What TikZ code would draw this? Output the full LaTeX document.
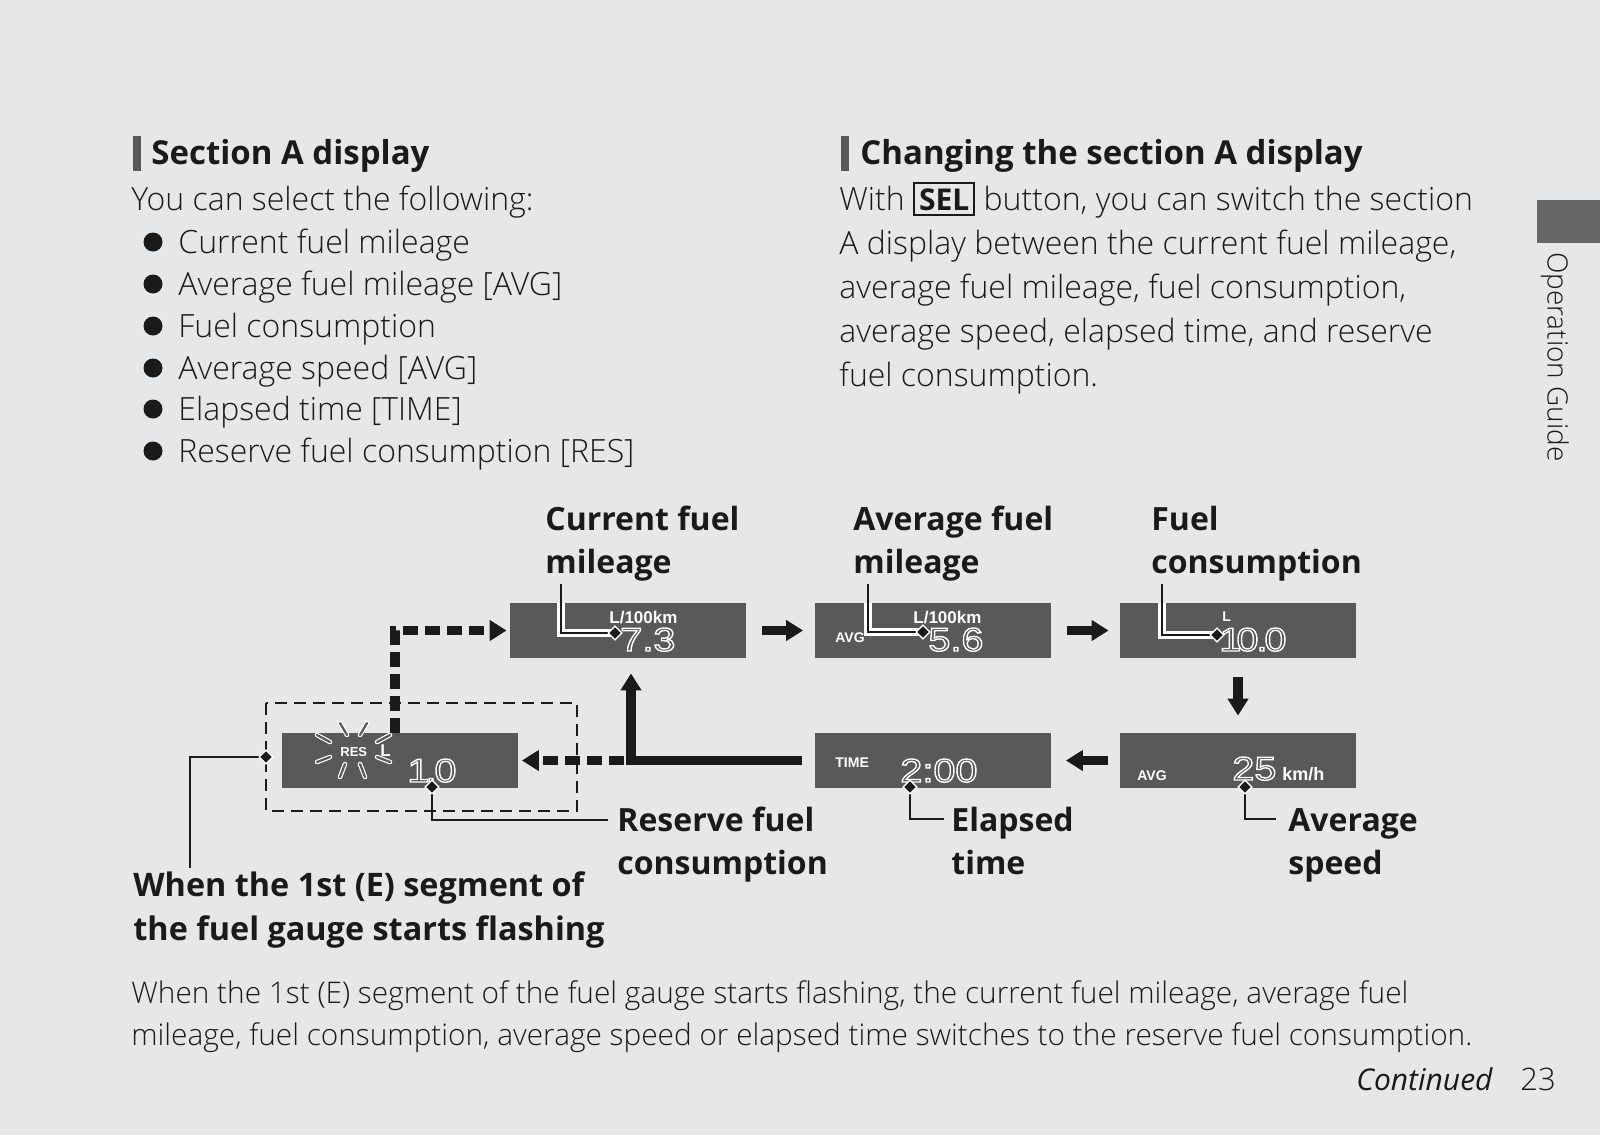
\documentclass[tikz,border=0pt]{standalone}
\usepackage{fontspec}
\setmainfont{Open Sans}
\IfFontExistsTF{Open Sans Light}{\newfontfamily\lightf{Open Sans Light}}{\newfontfamily\lightf{Open Sans}}
\newfontfamily\lcdfont{Liberation Sans}
\newfontfamily\lcdwide{Liberation Sans}[FakeStretch=1.2]
\usetikzlibrary{arrows.meta,shapes.geometric}
\definecolor{bg}{HTML}{E6E7E8}
\definecolor{disp}{HTML}{58595B}
\definecolor{ink}{HTML}{1A1A1A}
\definecolor{tabc}{HTML}{666666}
\newcommand\lcdtext[1]{\special{pdf:literal direct 1 Tr 0.7 w}#1\special{pdf:literal direct 0 Tr}}
\newcommand\selkey{{\setlength\fboxsep{2pt}\setlength\fboxrule{1pt}\fbox{\normalfont\bfseries\fontsize{15}{18}\selectfont SEL}}}
\begin{document}
\begin{tikzpicture}[x=0.5pt,y=-0.5pt,
  txt/.style={anchor=base west,inner sep=0pt,text=ink},
  body/.style={txt,font=\lightf\fontsize{16}{18}\selectfont},
  bottom/.style={txt,font=\lightf\fontsize{14.9}{18}\selectfont},
  head/.style={txt,font=\bfseries\fontsize{16.5}{20}\selectfont},
  lbl/.style={txt,font=\bfseries\fontsize{16}{20}\selectfont},
  disp/.style={fill=disp,draw=none,inner sep=0pt,minimum width=118pt,minimum height=27.5pt},
  lcd/.style={anchor=base west,inner sep=0pt,text=white,font=\lcdwide\fontsize{16.5}{16.5}\selectfont},
  tag/.style={anchor=base west,inner sep=0pt,text=white,font=\lcdfont\bfseries\fontsize{7}{7}\selectfont},
  bigarrow/.style={draw=ink,line width=4.75pt,-{Triangle[length=8.5pt,width=10pt]}},
  bigdash/.style={bigarrow,dash pattern=on 7.5pt off 3.5pt},
  thindash/.style={draw=ink,line width=1.2pt,dash pattern=on 6pt off 3.5pt},
  leader/.style={draw=ink,line width=1.3pt},
  halo/.style={draw=white,line width=3.6pt},
  dmd/.style={diamond,fill=ink,draw=white,line width=0.6pt,inner sep=0pt,minimum size=7pt},
  flash/.style={draw=white,double=disp,double distance=1.1pt,line width=0.6pt,line cap=round},
  bar/.style={fill=disp,draw=none},
]
\fill[bg] (0,0) rectangle (1600,1135);
\useasboundingbox (0,0) rectangle (1600,1135);

% ---------- headings ----------
\fill[bar] (133,136) rectangle (141,171);
\node[head] (hA) at (151,164) {Section A display};
\fill[bar] (841,136) rectangle (849,171);
\node[head] (hB) at (860,164) {Changing the section A display};

% ---------- left column ----------
\node[body] (l0) at (131,210) {You can select the following:};
\foreach \yy/\tt [count=\i] in {253/Current fuel mileage,295/Average fuel mileage [AVG],337/Fuel consumption,379/Average speed [AVG],420/Elapsed time [TIME],462/Reserve fuel consumption [RES]}{
  \fill[ink] (153,\yy-11) circle[radius=4.75pt];
  \node[body] (l\i) at (178,\yy) {\tt};
}

% ---------- right column ----------
\node[body] (r1) at (839,210) {With \selkey{} button, you can switch the section};
\node[body] (r2) at (839,254) {A display between the current fuel mileage,};
\node[body] (r3) at (839,298) {average fuel mileage, fuel consumption,};
\node[body] (r4) at (839,342) {average speed, elapsed time, and reserve};
\node[body] (r5) at (839,386) {fuel consumption.};

% ---------- side tab ----------
\fill[tabc] (1537,200) rectangle (1600,243);
\node[rotate=-90,inner sep=0pt,text=ink,font=\lightf\fontsize{14}{16}\selectfont] (side) at (1555,357) {Operation Guide};

% ---------- displays ----------
\node[disp] (D1) at (628,630.5) {};
\node[disp] (D2) at (932.5,630.5) {};
\node[disp] (D3) at (1238,630.5) {};
\node[disp] (D4) at (399.5,760.5) {};
\node[disp] (D5) at (932.5,760.5) {};
\node[disp] (D6) at (1238,760.5) {};

% reserve box
\draw[thindash] (266,703) rectangle (577,811);

% ---------- display contents ----------
\node[tag,font=\lcdfont\bfseries\fontsize{8.5}{8.5}\selectfont] (u1) at (609,623) {L/100km};
\node[tag] (a2) at (835,642) {AVG};
\node[tag,font=\lcdfont\bfseries\fontsize{8.5}{8.5}\selectfont] (u2) at (913,623) {L/100km};
\node[tag] (u3) at (1222,621) {L};
\node[tag,font=\lcdfont\bfseries\fontsize{6.5}{6.5}\selectfont] (res) at (340,756) {RES};
\node[tag,font=\lcdfont\bfseries\fontsize{8.5}{8.5}\selectfont] (u4) at (380,756) {L};
\node[tag] (t5) at (835,767) {TIME};
\node[tag] (a6) at (1137,780) {AVG};
\node[tag,font=\lcdfont\bfseries\fontsize{9}{9}\selectfont] (u6) at (1282,780) {km/h};

\node[lcd] (v1) at (620,651) {\lcdtext{7.3}};
\node[lcd] (v2) at (928,651) {\lcdtext{5.6}};
\node[lcd] (v3) at (1219,651) {\lcdtext{1\kern-2.5pt 0\kern-1pt.\kern-1.5pt0}};
\node[lcd] (v4) at (407,782) {\lcdtext{1\kern-2pt.\kern-1pt0}};
\node[lcd] (v5) at (900,782) {\lcdtext{2:00}};
\node[lcd] (v6) at (1232,780) {\lcdtext{25}};

% flashing marks
\draw[flash] (340,723) -- (347,735);
\draw[flash] (367,723) -- (360,735);
\draw[flash] (317,735) -- (330,742);
\draw[flash] (317,762) -- (330,757);
\draw[flash] (345,764) -- (340,777);
\draw[flash] (360,764) -- (365,777);
\draw[flash] (377,742) -- (390,735);
\draw[flash] (377,757) -- (390,762);

% ---------- arrows ----------
\draw[bigarrow,shorten <=8pt,shorten >=5.5pt] (D1.east) -- (D2.west);
\draw[bigarrow,shorten <=8pt,shorten >=5.5pt] (D2.east) -- (D3.west);
\draw[bigarrow,shorten <=9.5pt,shorten >=8.5pt] (D3.south) -- (D6.north);
\draw[bigarrow,shorten <=6pt,shorten >=7.5pt] (D6.west) -- (D5.east);
\coordinate (J) at (631,760.5);
\draw[bigarrow,shorten <=6pt,shorten >=7.5pt] (D5.west) -- (J) -- (J |- D1.south);
\draw[bigdash,shorten <=3.5pt,shorten >=2pt] (J) -- (D4.east);
\coordinate (K) at (395,632);
\draw[bigdash,shorten >=1.5pt] (K |- D4.north) |- (D1.west);

% ---------- labels ----------
\node[lbl] (cf1) at (545,530) {Current fuel};
\node[lbl] (cf2) at (545,573) {mileage};
\node[lbl] (af1) at (853,530) {Average fuel};
\node[lbl] (af2) at (853,573) {mileage};
\node[lbl] (fc1) at (1151,530) {Fuel};
\node[lbl] (fc2) at (1151,573) {consumption};
\node[lbl] (rf1) at (617,831) {Reserve fuel};
\node[lbl] (rf2) at (617,874) {consumption};
\node[lbl] (et1) at (951,831) {Elapsed};
\node[lbl] (et2) at (951,874) {time};
\node[lbl] (as1) at (1288,831) {Average};
\node[lbl] (as2) at (1288,874) {speed};
\node[lbl,font=\bfseries\fontsize{16.2}{20}\selectfont] (wf1) at (133,896) {When the 1st (E) segment of};
\node[lbl,font=\bfseries\fontsize{16.2}{20}\selectfont] (wf2) at (133,940) {the fuel gauge starts flashing};

% ---------- leaders ----------
\node[dmd] (d1) at (615,633) {};
\node[dmd] (d2) at (923,632) {};
\node[dmd] (d3) at (1217,635) {};
\node[dmd] (d4) at (432,787) {};
\node[dmd] (d5) at (910,787) {};
\node[dmd] (d6) at (1245,787) {};
\node[dmd] (d7) at (266,757) {};
\coordinate (c1) at (561,584);
\coordinate (c2) at (868,584);
\coordinate (c3) at (1162,584);
\coordinate (c4) at (608,820);
\coordinate (c5) at (944,819);
\coordinate (c6) at (1276,819);
\coordinate (c7) at (190,868);
\draw[halo] (c1 |- D1.north) |- (d1.center);
\draw[halo] (c2 |- D2.north) |- (d2.center);
\draw[halo] (c3 |- D3.north) |- (d3.center);
\draw[leader] (c1) |- (d1.center);
\draw[leader] (c2) |- (d2.center);
\draw[leader] (c3) |- (d3.center);
\draw[leader] (d4.center) |- (c4);
\draw[leader] (d5.center) |- (c5);
\draw[leader] (d6.center) |- (c6);
\draw[leader] (d7.center) -| (c7);
\foreach \d in {d1,d2,d3,d4,d5,d6,d7}{\node[dmd] at (\d) {};}

% ---------- bottom ----------
\node[bottom] (b1) at (131,1003) {When the 1st (E) segment of the fuel gauge starts flashing, the current fuel mileage, average fuel};
\node[bottom] (b2) at (131,1045) {mileage, fuel consumption, average speed or elapsed time switches to the reserve fuel consumption.};
\node[txt,font=\itshape\fontsize{15}{18}\selectfont] (cont) at (1356,1090) {Continued};
\node[body,font=\lightf\fontsize{15.5}{18}\selectfont] (pg) at (1520,1090) {23};
\end{tikzpicture}
\end{document}
